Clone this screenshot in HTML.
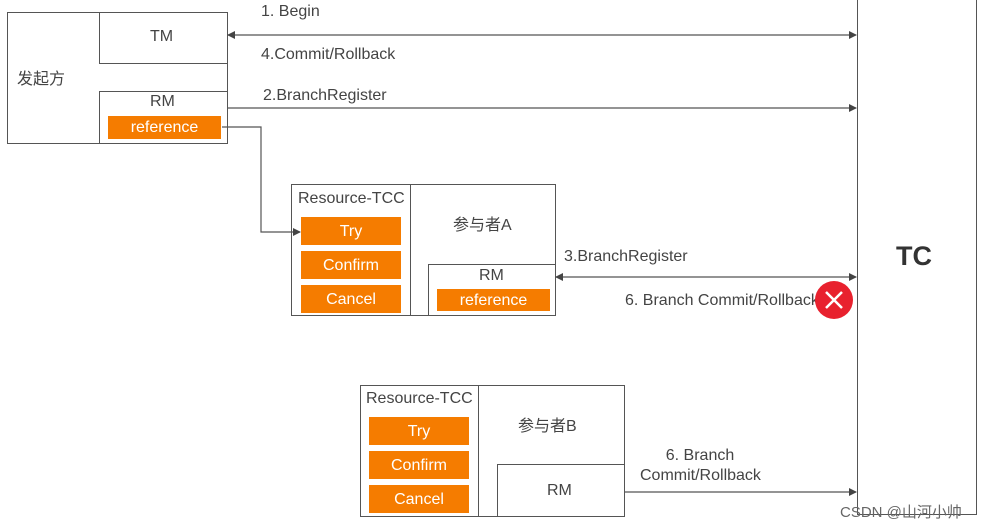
<!DOCTYPE html>
<html><head><meta charset="utf-8"><style>
body{margin:0;width:991px;height:528px;background:#fff;position:relative;overflow:hidden;font-family:"Liberation Sans","Noto Sans CJK SC",sans-serif;color:#444}
.b{position:absolute;border:1px solid #555;box-sizing:border-box;background:#fff}
.o{position:absolute;background:#f57c00;color:#fff;font-size:16px;text-align:center;box-sizing:border-box}
.t{position:absolute;font-size:16px;white-space:nowrap}
</style></head><body>
<div class="b" style="left:857px;top:-2px;width:120px;height:517px"></div>
<div class="t" style="left:896px;top:241px;font-size:27px;font-weight:bold;color:#333">TC</div>

<div class="b" style="left:7px;top:12px;width:221px;height:132px"></div>
<div class="b" style="left:99px;top:12px;width:129px;height:52px"></div>
<div class="b" style="left:99px;top:91px;width:129px;height:53px"></div>
<div class="t" style="left:17px;top:65px">发起方</div>
<div class="t" style="left:150px;top:28px">TM</div>
<div class="t" style="left:150px;top:93px">RM</div>
<div class="o" style="left:108px;top:116px;width:113px;height:23px;line-height:23px">reference</div>

<div class="t" style="left:261px;top:3px">1. Begin</div>
<div class="t" style="left:261px;top:46px">4.Commit/Rollback</div>
<div class="t" style="left:263px;top:87px">2.BranchRegister</div>

<div class="b" style="left:291px;top:184px;width:265px;height:132px"></div>
<div class="b" style="left:291px;top:184px;width:120px;height:132px"></div>
<div class="t" style="left:298px;top:190px">Resource-TCC</div>
<div class="o" style="left:301px;top:217px;width:100px;height:28px;line-height:29px">Try</div>
<div class="o" style="left:301px;top:251px;width:100px;height:28px;line-height:29px">Confirm</div>
<div class="o" style="left:301px;top:285px;width:100px;height:28px;line-height:29px">Cancel</div>
<div class="t" style="left:453px;top:211px">参与者A</div>
<div class="b" style="left:428px;top:264px;width:128px;height:52px"></div>
<div class="t" style="left:479px;top:267px">RM</div>
<div class="o" style="left:437px;top:289px;width:113px;height:22px;line-height:23px">reference</div>

<div class="t" style="left:564px;top:248px">3.BranchRegister</div>
<div class="t" style="left:625px;top:292px">6. Branch Commit/Rollback</div>

<div class="b" style="left:360px;top:385px;width:265px;height:132px"></div>
<div class="b" style="left:360px;top:385px;width:119px;height:132px"></div>
<div class="t" style="left:366px;top:390px">Resource-TCC</div>
<div class="o" style="left:369px;top:417px;width:100px;height:28px;line-height:29px">Try</div>
<div class="o" style="left:369px;top:451px;width:100px;height:28px;line-height:29px">Confirm</div>
<div class="o" style="left:369px;top:485px;width:100px;height:28px;line-height:29px">Cancel</div>
<div class="t" style="left:518px;top:412px">参与者B</div>
<div class="b" style="left:497px;top:464px;width:128px;height:53px"></div>
<div class="t" style="left:547px;top:482px">RM</div>
<div class="t" style="left:640px;top:446px;width:120px;text-align:center;line-height:20px">6. Branch<br>Commit/Rollback</div>

<svg width="991" height="528" style="position:absolute;left:0;top:0">
<defs><marker id="a" markerWidth="8" markerHeight="8" refX="7" refY="4" orient="auto-start-reverse" markerUnits="userSpaceOnUse"><path d="M0,0L8,4L0,8z" fill="#444"/></marker></defs>
<g stroke="#555" stroke-width="1.2" fill="none">
<line x1="228" y1="35" x2="856" y2="35" marker-start="url(#a)" marker-end="url(#a)"/>
<line x1="228" y1="108" x2="856" y2="108" marker-end="url(#a)"/>
<polyline points="222,127 261,127 261,232 300,232" marker-end="url(#a)"/>
<line x1="556" y1="277" x2="856" y2="277" marker-start="url(#a)" marker-end="url(#a)"/>
<line x1="625" y1="492" x2="856" y2="492" marker-end="url(#a)"/>
</g>
<circle cx="834" cy="300" r="19" fill="#e8212e"/>
<path d="M826,292L842,308M842,292L826,308" stroke="#fff" stroke-width="2.5"/>
</svg>
<div class="t" style="left:840px;top:501px;font-size:15px;color:#666">CSDN @山河小帅</div>
</body></html>
